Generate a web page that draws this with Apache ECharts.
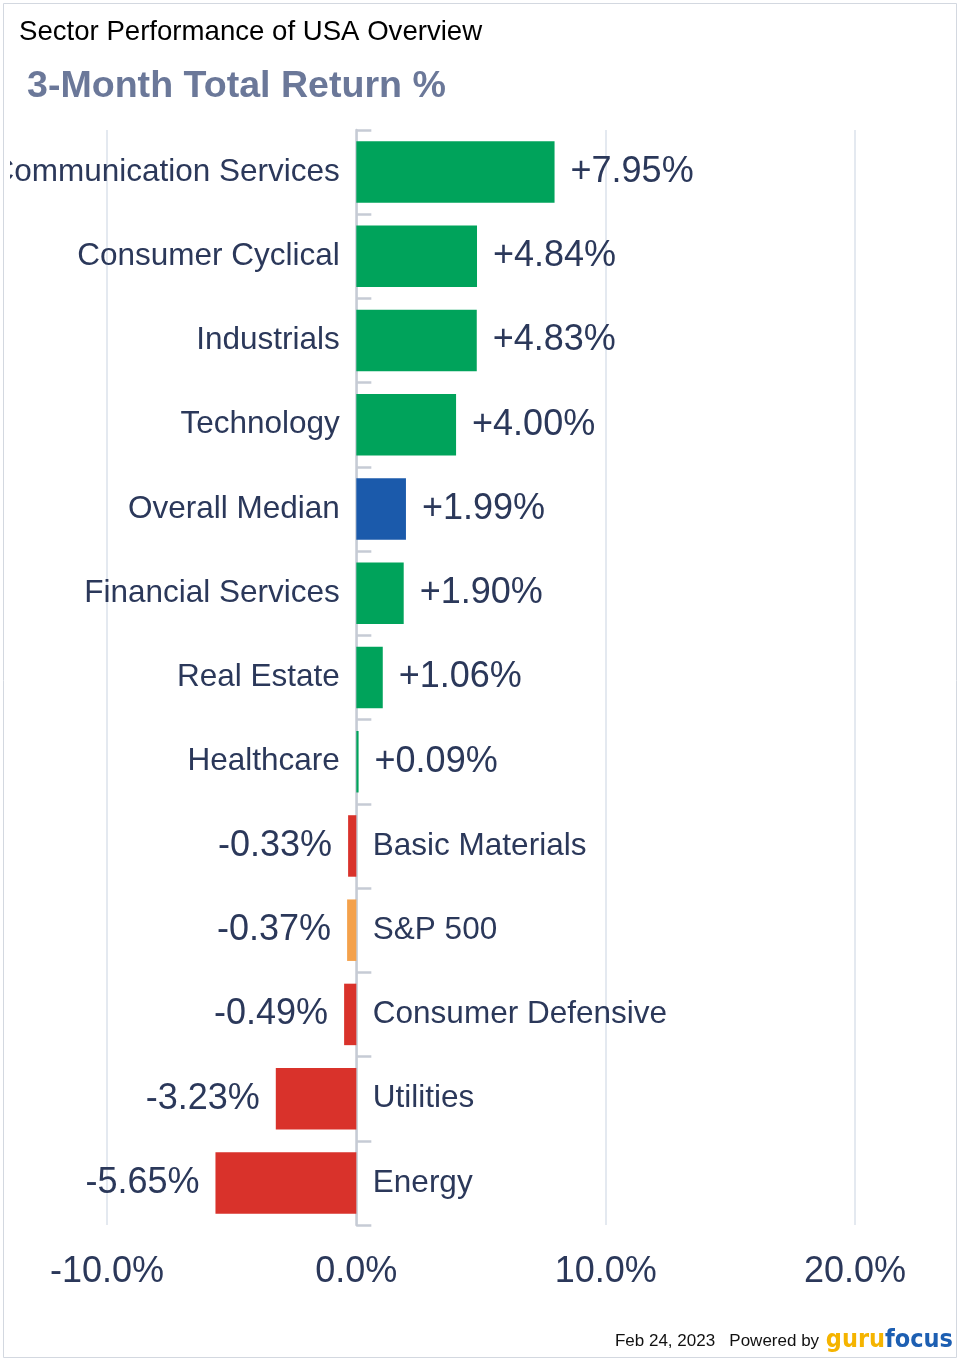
<!DOCTYPE html>
<html>
<head>
<meta charset="utf-8">
<script src="https://cdn.jsdelivr.net/npm/echarts@6/dist/echarts.min.js"></script>
<style>
  html, body { margin: 0; padding: 0; background: #ffffff; }
  #chart { width: 960px; height: 1361px; }
</style>
</head>
<body>
<div id="chart"></div>
<script>
// sector names, top to bottom
const categories = [
  'Communication Services', 'Consumer Cyclical', 'Industrials', 'Technology',
  'Overall Median', 'Financial Services', 'Real Estate', 'Healthcare',
  'Basic Materials', 'S&P 500', 'Consumer Defensive', 'Utilities', 'Energy'
];
// 3-month total return, %
const returns = [7.95, 4.84, 4.83, 4.00, 1.99, 1.90, 1.06, 0.09, -0.33, -0.37, -0.49, -3.23, -5.65];
const xTicks = [-10, 0, 10, 20];

const textColor = '#2b385a';
const font = '"Liberation Sans", Arial, Helvetica, sans-serif';

function barColor(name, v) {
  if (name === 'Overall Median') return '#1b5aab';
  if (name === 'S&P 500') return '#f4a14b';
  return v >= 0 ? '#00a35b' : '#d9322b';
}

const fmt = v => (v >= 0 ? '+' : '') + v.toFixed(2) + '%';

const chart = echarts.init(document.getElementById('chart'), null, { renderer: 'canvas' });

chart.setOption({
  backgroundColor: '#ffffff',
  animation: false,
  title: [
    {
      text: 'Sector Performance of USA Overview',
      left: 14, top: 13,
      textStyle: { fontFamily: font, fontSize: 27.6, fontWeight: 'normal', color: '#000000' }
    },
    {
      text: '3-Month Total Return %',
      left: 22, top: 63,
      textStyle: { fontFamily: font, fontSize: 37.6, fontWeight: 'bold', color: '#6b7899' }
    },
    {
      text: '{a|Feb 24, 2023   Powered by }{g|guru}{f|focus}',
      right: 2, bottom: 3,
      textStyle: {
        fontWeight: 'normal',
        rich: {
          a: { fontFamily: font, fontSize: 17, fontWeight: 'normal', color: '#111111', verticalAlign: 'bottom', padding: [0, 2, 3, 0] },
          g: { fontFamily: '"DejaVu Sans Condensed", sans-serif', fontSize: 25, fontWeight: 'bold', color: '#f5b400' },
          f: { fontFamily: '"DejaVu Sans Condensed", sans-serif', fontSize: 25, fontWeight: 'bold', color: '#1d5fb2' }
        }
      }
    }
  ],
  graphic: [
    {
      // plot area clips the longest label on the left edge
      type: 'rect', z: 99, silent: true,
      shape: { x: 0, y: 135, width: 10, height: 75 },
      style: { fill: '#ffffff' }
    },
    {
      type: 'rect', z: 100, silent: true,
      shape: { x: 3.5, y: 3.5, width: 953, height: 1354 },
      style: { fill: null, stroke: '#d3d8e0', lineWidth: 1 }
    }
  ],
  grid: { left: 107, right: 105, top: 130, bottom: 136, containLabel: false },
  xAxis: {
    type: 'value',
    min: xTicks[0],
    max: xTicks[xTicks.length - 1],
    interval: 10,
    axisLine: { show: false },
    axisTick: { show: false },
    splitLine: { show: true, lineStyle: { color: '#e4e9f0', width: 2 } },
    axisLabel: {
      margin: 29,
      fontFamily: font, fontSize: 36, color: textColor,
      formatter: v => v.toFixed(1) + '%'
    }
  },
  yAxis: {
    type: 'category',
    inverse: true,
    data: categories,
    axisLine: { show: true, onZero: true, lineStyle: { color: '#c6cbd5', width: 2.5 } },
    axisTick: { show: true, inside: true, length: 15, lineStyle: { color: '#c6cbd5', width: 2.5 } },
    axisLabel: { show: false },
    splitLine: { show: false }
  },
  series: [
    {
      type: 'bar',
      barCategoryGap: '27%',
      z: 2,
      data: returns.map((v, i) => ({
        value: v,
        itemStyle: { color: barColor(categories[i], v) },
        label: { position: v >= 0 ? 'right' : 'left' }
      })),
      label: {
        show: true,
        distance: 16,
        fontFamily: font, fontSize: 36, color: textColor,
        formatter: p => fmt(p.value)
      }
    },
    {
      type: 'scatter',
      silent: true,
      symbolSize: 1,
      z: 3,
      itemStyle: { color: 'transparent' },
      data: categories.map((c, i) => ({
        value: [0, c],
        label: { position: returns[i] >= 0 ? 'left' : 'right' }
      })),
      label: {
        show: true,
        opacity: 1,
        distance: 16,
        fontFamily: font, fontSize: 31.5, color: textColor,
        formatter: p => p.value[1]
      }
    }
  ]
});
</script>
</body>
</html>
